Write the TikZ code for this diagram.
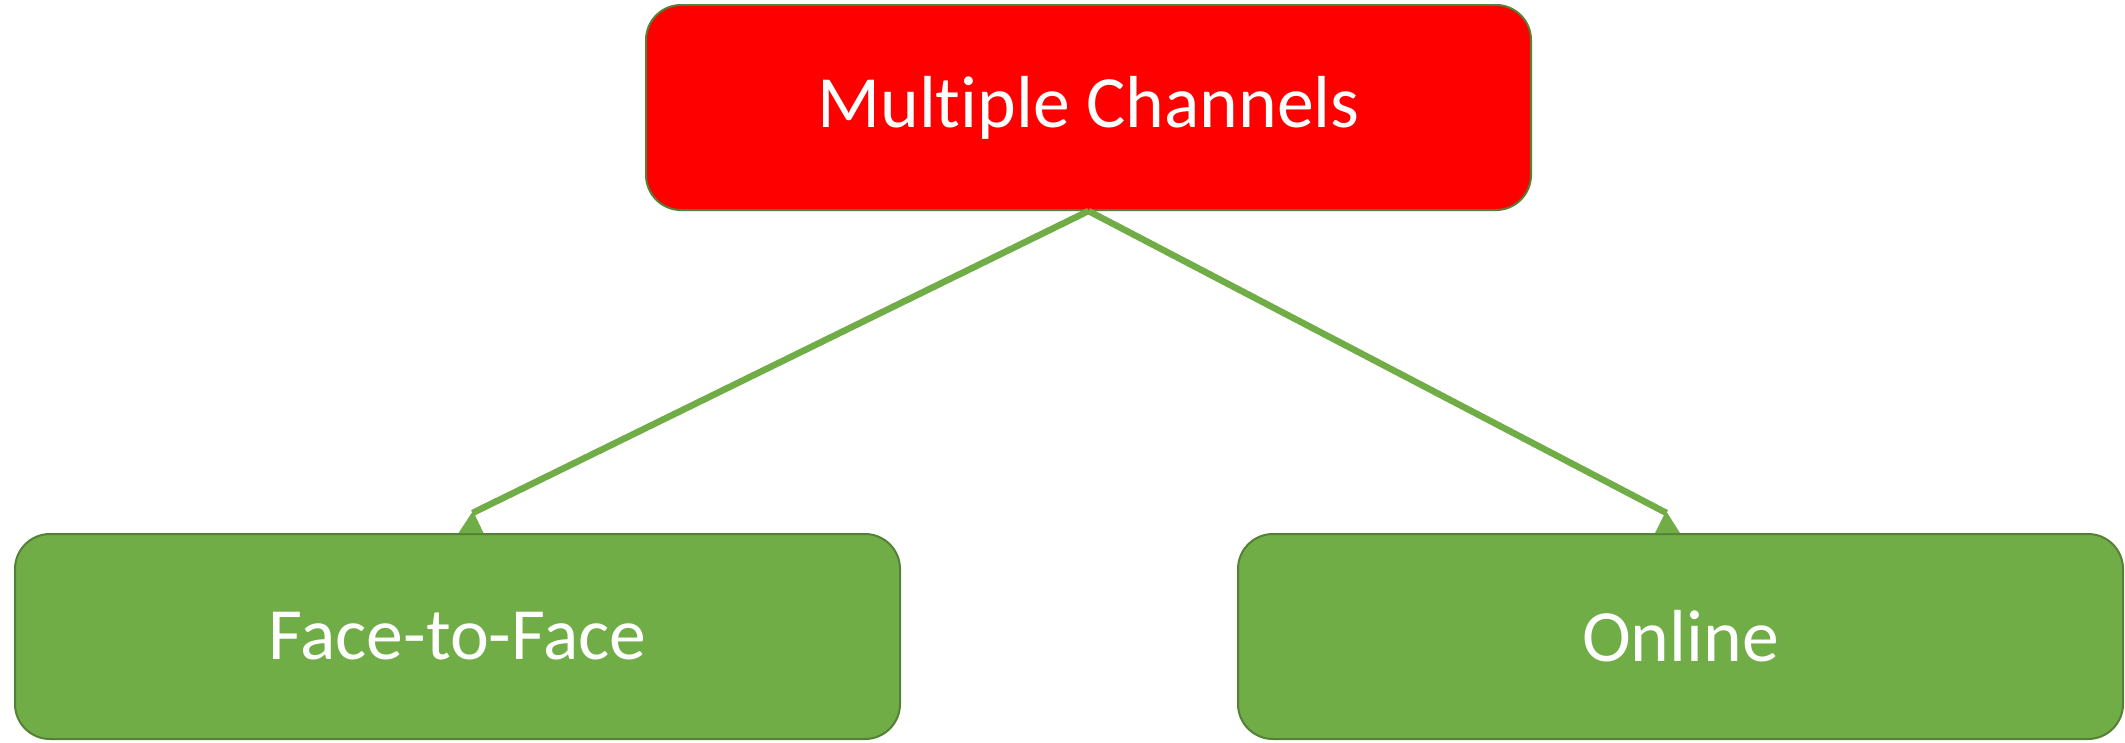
\documentclass[tikz,border=0pt]{standalone}
\usepackage{fontspec}
\setmainfont{Carlito}[Ligatures=CommonOff]
\usetikzlibrary{calc}
\definecolor{boxgreen}{HTML}{70AD47}
\definecolor{edgegreen}{HTML}{538135}
\definecolor{boxred}{HTML}{FF0000}
\tikzset{
  box/.style={draw=edgegreen, line width=2pt, rounded corners=35pt,
    minimum width=885pt, minimum height=205pt, inner sep=0pt,
    text=white, font=\fontsize{73.7}{88}\selectfont},
  redbox/.style={box, fill=boxred},
  greenbox/.style={box, fill=boxgreen},
  link/.style={draw=boxgreen, line width=6.5pt},
  tiphead/.style={fill=boxgreen}
}
\begin{document}
\begin{tikzpicture}[x=1pt,y=-1pt]
\useasboundingbox (0,0) rectangle (2125,742);
\node[redbox] (top) at (1088.5,107.5) {Multiple Channels};
\node[greenbox] (ftf) at (457.5,636.5) {Face-to-Face};
\node[greenbox] (onl) at (1680.5,636.5) {Online};
\coordinate (la) at ($(ftf.north)+(15,-20)$);
\coordinate (ra) at ($(onl.north)+(-14,-20)$);
\draw[link] (top.south) -- (la);
\draw[link] (top.south) -- (ra);
\fill[tiphead] ($(ftf.north)+(1,0)$) -- ($(ftf.north)+(15.5,-22)$) -- ($(ftf.north)+(26,0)$) -- cycle;
\fill[tiphead] ($(onl.north)+(-25.5,0)$) -- ($(onl.north)+(-14.5,-22)$) -- ($(onl.north)+(-0.5,0)$) -- cycle;
\end{tikzpicture}
\end{document}
